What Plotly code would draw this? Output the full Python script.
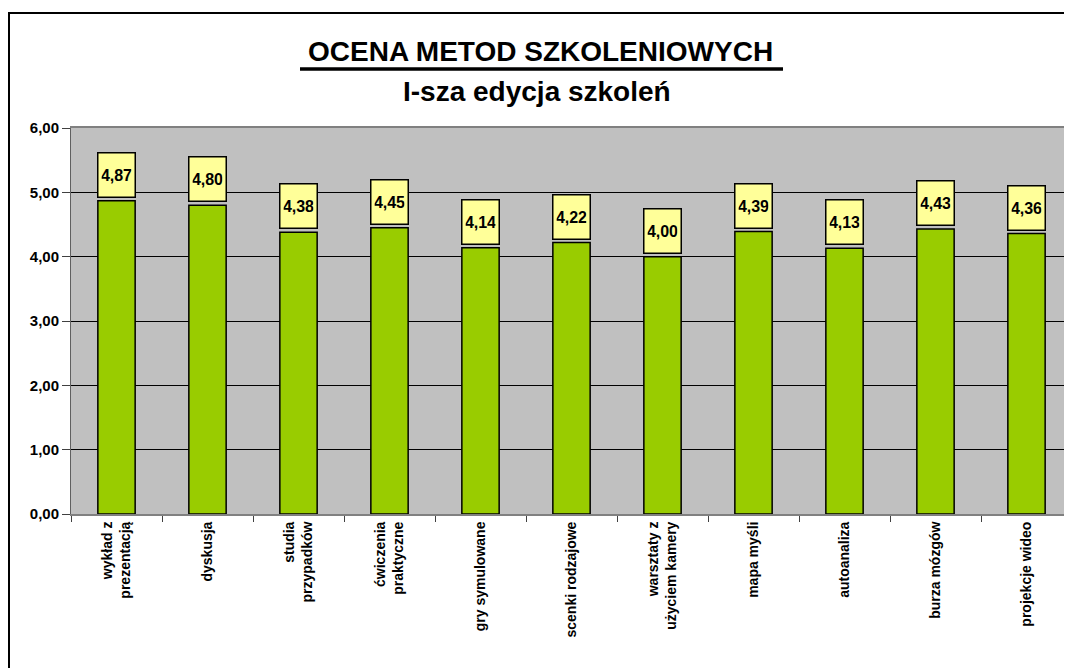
import plotly.graph_objects as go

categories = ["wykład z<br>prezentacją", "dyskusja", "studia<br>przypadków", "ćwiczenia<br>praktyczne",
              "gry symulowane", "scenki rodzajowe", "warsztaty z<br>użyciem kamery", "mapa myśli",
              "autoanaliza", "burza mózgów", "projekcje wideo"]
values = [4.87, 4.80, 4.38, 4.45, 4.14, 4.22, 4.00, 4.39, 4.13, 4.43, 4.36]
y_ticks = [0, 1, 2, 3, 4, 5, 6]
title_main = "OCENA METOD SZKOLENIOWYCH"
title_sub = "I-sza edycja szkoleń"

OFF = 8  # browser default body margin
W, H = 1072 - OFF, 668 - OFF
L, T, B, R = 71 - OFF, 128 - OFF, 154, 0
pw, ph = W - L - R, H - T - B

def px(x):
    return (x - OFF - L) / pw

def py(y):
    return (H - B - (y - OFF)) / ph

font_main = "Liberation Sans, Arial, sans-serif"
font_narrow = "Liberation Sans Narrow, Arial Narrow, Liberation Sans, Arial, sans-serif"

fig = go.Figure()
fig.add_trace(go.Bar(
    x=categories, y=values,
    marker=dict(color="#99CC00", line=dict(color="#000000", width=1.5)),
    hoverinfo="skip",
))

annotations = []
for c, v in zip(categories, values):
    annotations.append(dict(
        x=c, y=v, xref="x", yref="y", yanchor="bottom", yshift=3,
        text="<b>" + f"{v:.2f}".replace(".", ",") + "</b>",
        showarrow=False, width=30, height=37, borderpad=3,
        bgcolor="#FFFF99", bordercolor="#000000", borderwidth=1.5,
        valign="middle", font=dict(family=font_narrow, size=16, color="#000000"),
    ))

annotations.append(dict(
    x=px(540), y=py(52), xref="paper", yref="paper", xanchor="center", yanchor="middle",
    text="<b>" + title_main + "</b>", showarrow=False,
    font=dict(family=font_main, size=28, color="#000000"),
))
annotations.append(dict(
    x=px(537), y=py(92), xref="paper", yref="paper", xanchor="center", yanchor="middle",
    text="<b>" + title_sub + "</b>", showarrow=False,
    font=dict(family=font_main, size=28, color="#000000"),
))

shapes = [
    dict(type="line", xref="paper", yref="paper", x0=px(300), x1=px(783), y0=py(69), y1=py(69),
         line=dict(color="#000000", width=3.5)),
    dict(type="rect", xref="paper", yref="paper", x0=px(9), x1=px(1090), y0=py(13), y1=py(700),
         line=dict(color="#000000", width=2), layer="below"),
]

fig.update_layout(
    width=W, height=H,
    margin=dict(l=L, r=R, t=T, b=B, pad=0),
    paper_bgcolor="#FFFFFF", plot_bgcolor="#C0C0C0",
    bargap=0.59, showlegend=False,
    separators=", ",
    annotations=annotations, shapes=shapes,
    xaxis=dict(
        tickangle=-90, tickson="boundaries", ticks="outside", ticklen=6, tickcolor="#404040",
        showline=True, linecolor="#808080", linewidth=2, mirror=True,
        tickfont=dict(family=font_narrow, size=14, color="#000000", weight="bold"),
        showgrid=False,
    ),
    yaxis=dict(
        range=[0, 6], tickvals=y_ticks, tickformat=".2f",
        ticks="outside", ticklen=8, tickcolor="#404040",
        showline=True, linecolor="#606060", linewidth=1,
        showgrid=True, gridcolor="#000000", gridwidth=1, zeroline=False,
        tickfont=dict(family=font_narrow, size=15, color="#000000", weight="bold"),
    ),
    font=dict(family=font_main),
)

fig.write_html("out.html")
